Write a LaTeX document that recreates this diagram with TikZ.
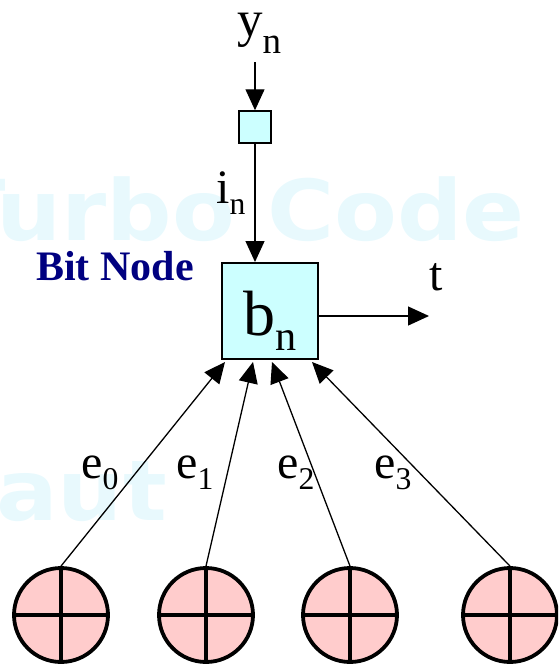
\documentclass[tikz,border=0pt]{standalone}
\usepackage{fontspec}
\setmainfont{Liberation Serif}
\newfontfamily\wmfont{DejaVu Sans}
\usetikzlibrary{arrows.meta, positioning, calc}
\definecolor{bitcyan}{RGB}{204,255,255}
\definecolor{chkpink}{RGB}{255,204,204}
\definecolor{bitnavy}{RGB}{0,0,128}
\definecolor{wmcyan}{RGB}{232,249,253}
\newcommand{\lsub}[2][0.24em]{\raisebox{-#1}{\fontsize{0.66em}{0.7em}\selectfont #2}}

\begin{document}
\begin{tikzpicture}[
    x=1pt, y=-1pt,
    arr/.style={-{Triangle[length=21pt, width=19pt]}, line width=1.3pt},
    bitbox/.style={rectangle, draw, line width=2pt, fill=bitcyan,
                   minimum size=#1, inner sep=0pt},
    xorc/.style={circle, draw, line width=3.8pt, fill=chkpink,
                 minimum size=94pt, inner sep=0pt,
                 path picture={\draw[line width=3.4pt]
                   (path picture bounding box.north) -- (path picture bounding box.south)
                   (path picture bounding box.west) -- (path picture bounding box.east);}},
    txt/.style={inner sep=0pt, anchor=base west, font=\fontsize{48pt}{50pt}\selectfont},
    wm/.style={inner sep=0pt, anchor=base east, text=wmcyan, xscale=1.09,
               font=\wmfont\bfseries\fontsize{84pt}{84pt}\selectfont},
]
\useasboundingbox (0,0) rectangle (558,664);
\clip (0,0) rectangle (558,664);

% watermark
\node[wm] (wmtop) at (525,240) {Turbo Code};
\node[wm] (wmleft) at (167,520) {aut};

\node[bitbox=96pt] (bn) at (270,311) {};
\node[txt, anchor=base, font=\fontsize{64pt}{66pt}\selectfont] (bnlbl) at ([yshift=-24pt]bn.center) {b\lsub{n}};
\node[bitbox=32pt, line width=1.5pt] (ib) at (255,127) {};
\node[txt, font=\fontsize{51pt}{53pt}\selectfont] (yn) at (237,36) {y\lsub[0.34em]{\fontsize{1.1em}{1.1em}\selectfont n}};
\coordinate (ytop) at (255,62);
\node[txt] (inlbl) at (216,203) {i\lsub{n}};
\node[txt, font=\bfseries\fontsize{42pt}{44pt}\selectfont, text=bitnavy] (bitlbl) at (36,280) {Bit Node};
\node[txt] (tlbl) at (429,290) {t};
\coordinate (tend) at (429,316);

\foreach \k/\xx in {0/61,1/206,2/350,3/510}
  \node[xorc] (c\k) at (\xx,615) {};
\foreach \k/\xx in {0/81,1/176,2/277,3/374}
  \node[txt] (e\k) at (\xx,478) {e\lsub{\k}};

\draw[arr] (ytop) -- (ib);
\draw[arr] (ib) -- (ib |- bn.north);
\draw[arr] ([yshift=-5pt]bn.east) -- (tend);
\foreach \k/\dx in {0/-45,1/-17,2/2,3/42}
  \draw[arr] (c\k.north) -- ([xshift=\dx pt, yshift=-2pt]bn.south);
\end{tikzpicture}
\end{document}
